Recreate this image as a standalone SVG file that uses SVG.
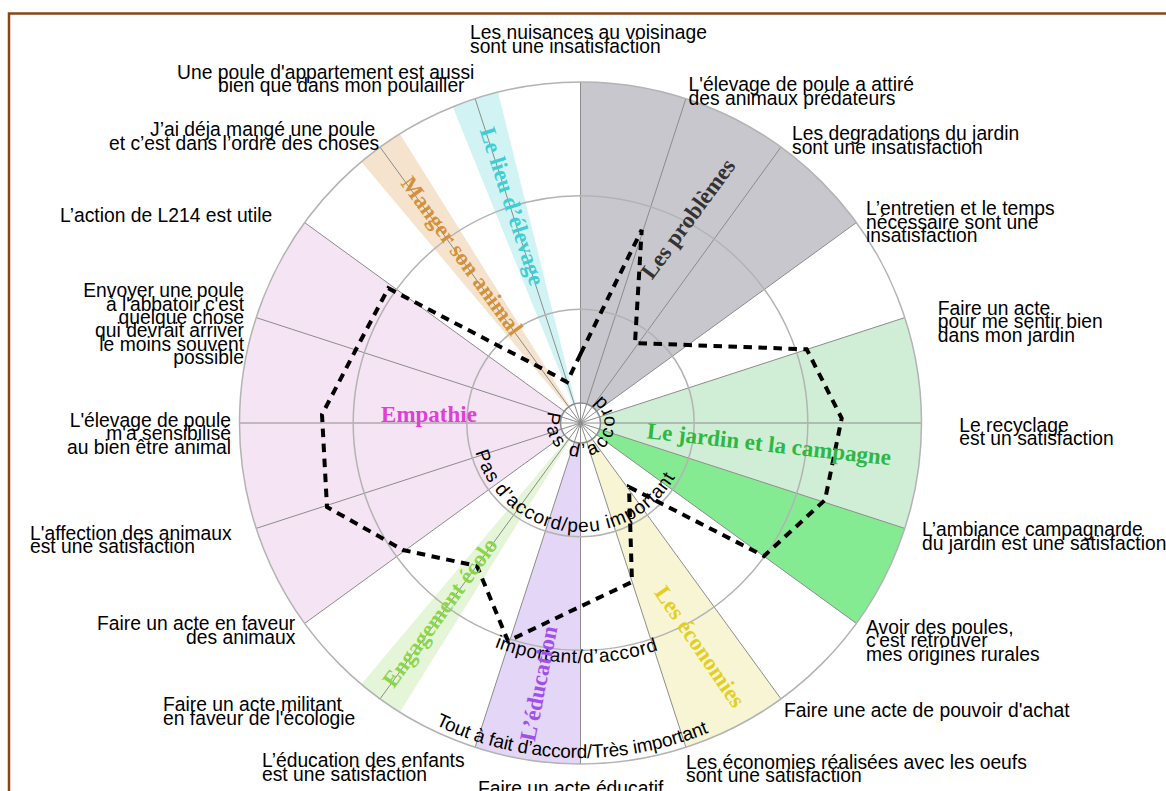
<svg xmlns="http://www.w3.org/2000/svg" width="1166" height="791" viewBox="0 0 1166 791">
<style>
.lbl{font-family:"Liberation Sans",Arial,sans-serif;font-size:19.3px;fill:#000}
.ring{font-family:"Liberation Sans",Arial,sans-serif;font-size:19px;fill:#000}
.cat{font-family:"Liberation Serif","Times New Roman",serif;font-size:23px;font-weight:bold}
.spoke{stroke:#8c8c8c;stroke-width:1}
.circ{fill:none;stroke:#b3b3b3;stroke-width:1.5}
</style>
<defs>
<path id="pHub" d="M548.55,411.37 A34,34 0 1 0 592.13,391.05"/>
<path id="pR2" d="M475.46,452.13 A109,109 0 0 0 682.93,460.28"/>
<path id="pR3" d="M494.49,647.06 A240,240 0 0 0 700.5,630.85"/>
<path id="pR4" d="M435.22,724.86 A335,335 0 0 0 748,713.12"/>
</defs>
<rect width="1166" height="791" fill="#fff"/>
<path d="M9,791 V13.5 H1166" fill="none" stroke="#8b4513" stroke-width="2.5"/>

<g id="wedges">
<path d="M580.5,423 L580.5,82 A341,341 0 0 1 856.38,222.56 Z" fill="#c8c7cd"/>
<path d="M580.5,423 L904.81,317.62 A341,341 0 0 1 904.81,528.38 Z" fill="#d0eed5"/>
<path d="M580.5,423 L904.81,528.38 A341,341 0 0 1 856.38,623.44 Z" fill="#84eb93"/>
<path d="M580.5,423 L780.94,698.88 A341,341 0 0 1 685.88,747.31 Z" fill="#f7f5d4"/>
<path d="M580.5,423 L580.5,764 A341,341 0 0 1 475.12,747.31 Z" fill="#e3d6f6"/>
<path d="M580.5,423 L399.80,712.19 A341,341 0 0 1 361.31,684.22 Z" fill="#e5f5d8"/>
<path d="M580.5,423 L304.62,623.44 A341,341 0 0 1 304.62,222.56 Z" fill="#f5e4f3"/>
<path d="M580.5,423 L361.31,161.78 A341,341 0 0 1 399.80,133.81 Z" fill="#f5e3cd"/>
<path d="M580.5,423 L452.76,106.83 A341,341 0 0 1 498.01,92.13 Z" fill="#d2f3f4"/>
</g>
<circle cx="580.5" cy="423" r="20" fill="#fff"/>

<g id="spokes" class="spoke">
<line x1="580.5" y1="423" x2="580.5" y2="82"/>
<line x1="580.5" y1="423" x2="685.88" y2="98.69"/>
<line x1="580.5" y1="423" x2="780.94" y2="147.12"/>
<line x1="580.5" y1="423" x2="856.38" y2="222.56"/>
<line x1="580.5" y1="423" x2="904.81" y2="317.62"/>
<line x1="580.5" y1="423" x2="921.5" y2="423"/>
<line x1="580.5" y1="423" x2="904.81" y2="528.38"/>
<line x1="580.5" y1="423" x2="856.38" y2="623.44"/>
<line x1="580.5" y1="423" x2="780.94" y2="698.88"/>
<line x1="580.5" y1="423" x2="685.88" y2="747.31"/>
<line x1="580.5" y1="423" x2="580.5" y2="764"/>
<line x1="580.5" y1="423" x2="475.12" y2="747.31"/>
<line x1="580.5" y1="423" x2="380.06" y2="698.88"/>
<line x1="580.5" y1="423" x2="304.62" y2="623.44"/>
<line x1="580.5" y1="423" x2="256.19" y2="528.38"/>
<line x1="580.5" y1="423" x2="239.5" y2="423"/>
<line x1="580.5" y1="423" x2="256.19" y2="317.62"/>
<line x1="580.5" y1="423" x2="304.62" y2="222.56"/>
<line x1="580.5" y1="423" x2="380.06" y2="147.12"/>
<line x1="580.5" y1="423" x2="475.12" y2="98.69"/>
</g>

<g id="rings">
<circle class="circ" cx="580.5" cy="423" r="113.7"/>
<circle class="circ" cx="580.5" cy="423" r="227.3"/>
<circle class="circ" cx="580.5" cy="423" r="341"/>
<circle cx="580.5" cy="423" r="20" fill="none" stroke="#8a8a8a" stroke-width="1.5"/>
</g>

<g id="connectors">
<polygon points="580.5,354 641.7,230 635,343 688,345 806.7,349.3 841.7,418.3 825,500 764,556 629,487 632,582 580.5,606.5 508,641 477,566 403,550 327,507 322,414.5 355.7,350 388.3,288.3 541,368 567,382" fill="none" stroke="#000" stroke-width="4" stroke-dasharray="8.5 6.5"/>
</g>

<g id="scale-labels" class="ring">
<text><textPath href="#pHub" textLength="150" lengthAdjust="spacing">Pas d’accord</textPath></text>
<text><textPath href="#pR2" textLength="256" lengthAdjust="spacing">Pas d’accord/peu important</textPath></text>
<text><textPath href="#pR3" textLength="167" lengthAdjust="spacing">important/d’accord</textPath></text>
<text><textPath href="#pR4" textLength="282" lengthAdjust="spacing">Tout à fait d’accord/Très important</textPath></text>
</g>

<g id="categories" class="cat">
<text x="429" y="421.5" text-anchor="middle" fill="#e03fd5">Empathie</text>
<text transform="translate(768.8,446.5) rotate(6.3)" text-anchor="middle" dominant-baseline="middle" fill="#2cb843">Le jardin et la campagne</text>
<text transform="translate(690,220.2) rotate(-53.6)" text-anchor="middle" dominant-baseline="middle" fill="#333">Les problèmes</text>
<text transform="translate(510,207) rotate(72)" text-anchor="middle" dominant-baseline="middle" fill="#3ccfd6">Le lieu d’élevage</text>
<text transform="translate(460,257.2) rotate(54)" text-anchor="middle" dominant-baseline="middle" fill="#d4913a">Manger son animal</text>
<text transform="translate(441.8,613.9) rotate(-54)" text-anchor="middle" dominant-baseline="middle" fill="#8ad64a">Engagement écolo</text>
<text transform="translate(541,684) rotate(-78.8)" text-anchor="middle" dominant-baseline="middle" fill="#a050e8">L’éducation</text>
<text transform="translate(698,648) rotate(55.6)" text-anchor="middle" dominant-baseline="middle" fill="#e2cf22">Les économies</text>
</g>

<g id="labels" class="lbl">
<g id="n0"><text x="470" y="39">Les nuisances au voisinage</text><text x="470" y="52.5">sont une insatisfaction</text></g>
<g id="n1"><text x="688.5" y="91">L'élevage de poule a attiré</text><text x="688.5" y="104.5">des animaux prédateurs</text></g>
<g id="n2"><text x="792" y="140">Les degradations du jardin</text><text x="792" y="153.5">sont une insatisfaction</text></g>
<g id="n3"><text x="866" y="215">L’entretien et le temps</text><text x="866" y="228.5">nécessaire sont une</text><text x="866" y="242">insatisfaction</text></g>
<g id="n4"><text x="937.7" y="315">Faire un acte</text><text x="937.7" y="328.4">pour me sentir bien</text><text x="937.7" y="341.8">dans mon jardin</text></g>
<g id="n5"><text x="959.3" y="431.7">Le recyclage</text><text x="959.3" y="445">est un satisfaction</text></g>
<g id="n6"><text x="922" y="536">L’ambiance campagnarde</text><text x="922" y="549.5">du jardin est une satisfaction</text></g>
<g id="n7"><text x="866" y="633.5">Avoir des poules,</text><text x="866" y="647">c'est retrouver</text><text x="866" y="660.5">mes origines rurales</text></g>
<g id="n8"><text x="784" y="717">Faire une acte de pouvoir d'achat</text></g>
<g id="n9"><text x="686" y="768.5">Les économies réalisées avec les oeufs</text><text x="686" y="782">sont une satisfaction</text></g>
<g id="n10"><text x="478" y="795">Faire un acte éducatif</text></g>
<g id="n11"><text x="262" y="767">L’éducation des enfants</text><text x="262" y="780.5">est une satisfaction</text></g>
<g id="n12"><text x="163" y="711">Faire un acte militant</text><text x="163" y="724.5">en faveur de l'écologie</text></g>
<g id="n13"><text x="97" y="630">Faire un acte en faveur</text><text x="186" y="643.5">des animaux</text></g>
<g id="n14"><text x="30" y="539.5">L'affection des animaux</text><text x="30" y="553">est une satisfaction</text></g>
<g id="n15" text-anchor="end"><text x="231" y="427">L'élevage de poule</text><text x="231" y="440.3">m'a sensibilisé</text><text x="231" y="453.6">au bien être animal</text></g>
<g id="n16" text-anchor="end"><text x="244" y="297.3">Envoyer une poule</text><text x="244" y="310.7">à l'abbatoir c'est</text><text x="244" y="324">quelque chose</text><text x="244" y="337.4">qui devrait arriver</text><text x="244" y="350.7">le moins souvent</text><text x="244" y="364">possible</text></g>
<g id="n17"><text x="60" y="222">L’action de L214 est utile</text></g>
<g id="n18"><text x="150" y="136">J’ai déja mangé une poule</text><text x="109" y="149.5">et c’est dans l’ordre des choses</text></g>
<g id="n19"><text x="177" y="78.5">Une poule d'appartement est aussi</text><text x="218" y="91.5">bien que dans mon poulailler</text></g>
</g>
</svg>
